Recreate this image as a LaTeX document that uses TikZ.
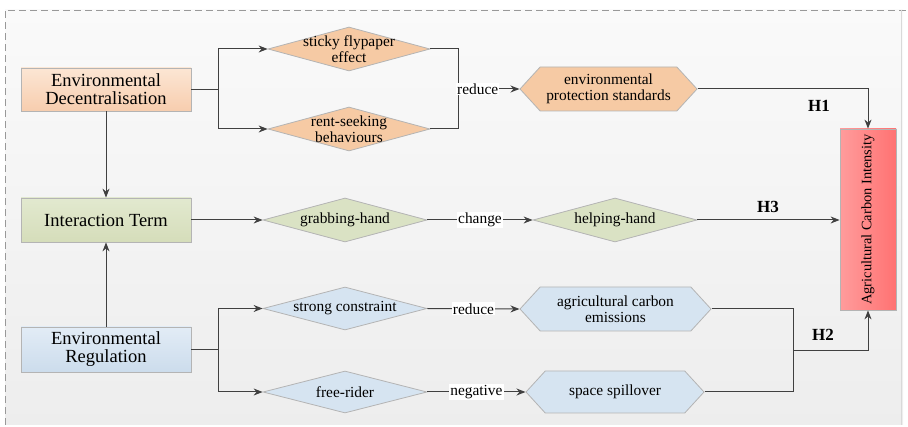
\documentclass[tikz,border=0pt]{standalone}
\usepackage{fontspec}
\setmainfont{LiberationSerif}[Extension=.ttf, UprightFont=*-Regular, BoldFont=*-Bold, ItalicFont=*-Italic, BoldItalicFont=*-BoldItalic]
\usetikzlibrary{arrows.meta,shapes.geometric,shapes.symbols}
\definecolor{lineC}{HTML}{404040}
\definecolor{bordC}{HTML}{B4B4B4}
\definecolor{orTop}{HTML}{FCE6D4}
\definecolor{orBot}{HTML}{F7CDAE}
\definecolor{orFill}{HTML}{F6CAA4}
\definecolor{grTop}{HTML}{E2E9CF}
\definecolor{grBot}{HTML}{D5DDBA}
\definecolor{grFill}{HTML}{DAE2C4}
\definecolor{blTop}{HTML}{E2ECF6}
\definecolor{blBot}{HTML}{CCDCEC}
\definecolor{blFill}{HTML}{D6E4F1}
\definecolor{redL}{HTML}{FF9C9C}
\definecolor{redR}{HTML}{FF7272}
\tikzset{
  boxnode/.style={rectangle, draw=bordC, line width=0.8pt, minimum width=170pt, align=center,
    font=\fontsize{18.5}{18}\selectfont, inner sep=0pt},
  dia/.style={diamond, aspect=3.7, draw=bordC, line width=0.8pt, inner sep=0pt},
  hexa/.style={signal, signal to=east and west, signal pointer angle=95, draw=bordC,
    line width=0.8pt, inner sep=0pt},
  dtext/.style={align=center, font=\fontsize{15.4}{15.5}\selectfont, inner sep=0pt},
  lbl/.style={fill=white, inner sep=1pt, font=\fontsize{15.4}{15.5}\selectfont},
  hyp/.style={font=\fontsize{17}{17}\selectfont\bfseries},
  conn/.style={draw=lineC, line width=1pt},
  arr/.style={conn, -{Stealth[length=9pt,width=7pt]}}
}
\begin{document}
\begin{tikzpicture}[x=1pt,y=-1pt]
\useasboundingbox (0,0) rectangle (908,427);
% background panel
\shade[top color=white!98!black, bottom color=white!93!black] (5,10) rectangle (903,425);
\draw[gray!80, line width=0.8pt, dash pattern=on 7pt off 4pt] (5,425) -- (5,10) -- (908,10);
\draw[white!85!black, line width=0.6pt] (901,10) -- (901,425);

% left boxes
\node[boxnode, minimum height=43pt, top color=orTop, bottom color=orBot] (ED) at (106,89.5) {Environmental\\Decentralisation};
\node[boxnode, minimum height=44pt, top color=grTop, bottom color=grBot] (IT) at (106,220) {Interaction Term};
\node[boxnode, minimum height=45pt, top color=blTop, bottom color=blBot] (ER) at (106,349.5) {Environmental\\Regulation};

% diamonds
\node[dia, minimum width=162pt, minimum height=44pt, fill=orFill, label={[dtext]center:sticky flypaper\\effect}] (SF) at (349,49) {};
\node[dia, minimum width=162pt, minimum height=44pt, fill=orFill, label={[dtext]center:rent-seeking\\behaviours}] (RS) at (349,129) {};
\node[dia, minimum width=164pt, minimum height=44pt, fill=grFill, label={[dtext]center:grabbing-hand}] (GH) at (345,220) {};
\node[dia, minimum width=164pt, minimum height=44pt, fill=grFill, label={[dtext]center:helping-hand}] (HH) at (615,220) {};
\node[dia, minimum width=164pt, minimum height=43pt, fill=blFill, label={[dtext]center:strong constraint}] (SC) at (345,308.5) {};
\node[dia, minimum width=164pt, minimum height=42pt, fill=blFill, label={[dtext]center:free-rider}] (FR) at (345,392) {};

% hexagons
\node[hexa, minimum width=177pt, minimum height=44pt, fill=orFill, label={[dtext]center:environmental\\protection standards}] (EPS) at (608.5,89) {};
\node[hexa, minimum width=191pt, minimum height=44pt, fill=blFill, label={[dtext]center:agricultural carbon\\emissions}] (ACE) at (615.5,309) {};
\node[hexa, minimum width=178pt, minimum height=42pt, fill=blFill, label={[dtext]center:space spillover}] (SS) at (615,392) {};

% outcome
\node[rectangle, draw=bordC, line width=0.8pt, minimum width=56pt, minimum height=181pt,
  left color=redL, right color=redR, inner sep=0pt] (ACI) at (868,219.5) {};
\node[rotate=90, font=\fontsize{14.4}{15}\selectfont, inner sep=0pt] (ACIt) at (ACI.center) {Agricultural Carbon Intensity};

% branch / merge points
\coordinate (b1) at (218,89.5);
\coordinate (m1) at (458,89);
\coordinate (b2) at (218,349.5);
\coordinate (m2) at (793,351);

% top chain
\draw[conn] (ED.east) -- (b1);
\draw[arr] (b1) |- (SF.west);
\draw[arr] (b1) |- (RS.west);
\draw[conn] (SF.east) -| (m1);
\draw[conn] (RS.east) -| (m1);
\draw[arr] (m1) -- node[lbl, pos=0.32] {reduce} (EPS.west);
\draw[arr] (EPS.east) -| (ACI.north);
\node[hyp] (H1) at (819,106) {H1};

% vertical arrows
\draw[arr] (ED.south) -- (IT.north);
\draw[arr] (ER.north) -- (IT.south);

% middle chain
\draw[arr] (IT.east) -- (GH.west);
\draw[arr] (GH.east) -- node[lbl] {change} (HH.west);
\draw[arr] (HH.east) -- (ACI.west |- HH.east);
\node[hyp] (H3) at (768,207) {H3};

% bottom chain
\draw[conn] (ER.east) -- (b2);
\draw[arr] (b2) |- (SC.west);
\draw[arr] (b2) |- (FR.west);
\draw[arr] (SC.east) -- node[lbl] {reduce} (ACE.west);
\draw[arr] (FR.east) -- node[lbl] {negative} (SS.west);
\draw[conn] (ACE.east) -| (m2);
\draw[conn] (SS.east) -| (m2);
\draw[arr] (m2) -| (ACI.south);
\node[hyp] (H2) at (823,335) {H2};
\end{tikzpicture}
\end{document}
